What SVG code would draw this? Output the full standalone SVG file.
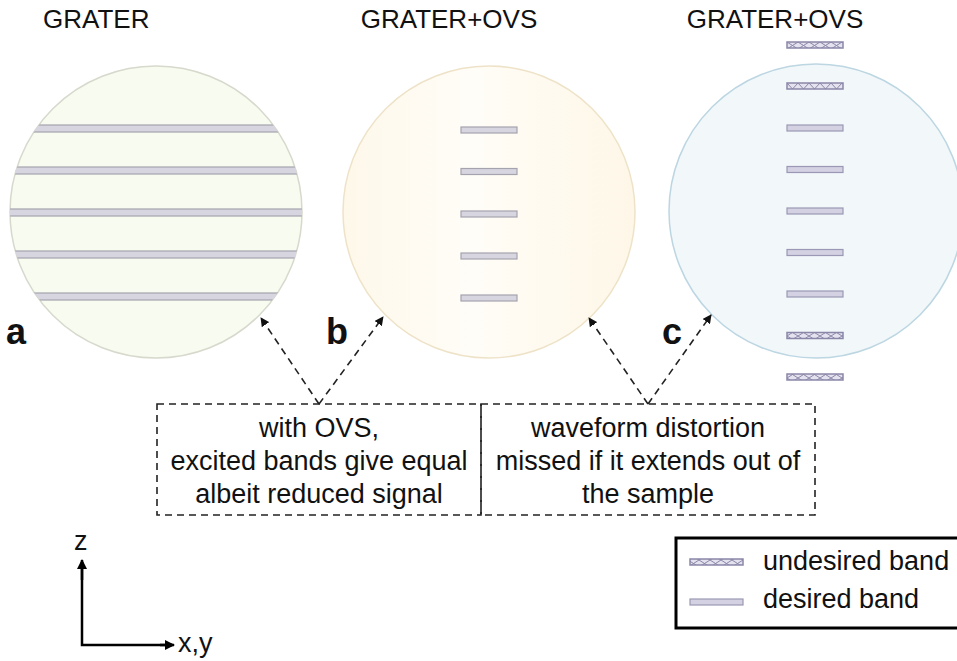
<svg xmlns="http://www.w3.org/2000/svg" width="957" height="661" viewBox="0 0 957 661">
<style>
.t{font-family:"Liberation Sans",Arial,sans-serif;fill:#111;}
.title{font-size:26px;}
.lab{font-size:36px;font-weight:bold;}
.box{font-size:27px;text-anchor:middle;}
.leg{font-size:27px;}
.band{fill:#d6d5e0;stroke:#a4a3ae;stroke-width:1.2;}
.dband{fill:#d3d1e2;stroke:#9a98b4;stroke-width:1.2;}
.hx{fill:url(#px);stroke:#8a86a8;stroke-width:1.5;}
.hv{fill:url(#pv);stroke:#8a86a8;stroke-width:1.5;}
.dash{fill:none;stroke:#222;stroke-width:1.6;stroke-dasharray:7 5;}
.ax{fill:none;stroke:#000;stroke-width:2.5;}
</style>
<defs>
<linearGradient id="gb" x1="0" y1="0" x2="1" y2="0">
<stop offset="0" stop-color="#fef8ea"/>
<stop offset="0.45" stop-color="#fffdf8"/>
<stop offset="0.6" stop-color="#fffbf2"/>
<stop offset="1" stop-color="#fef7e8"/>
</linearGradient>
<clipPath id="ca"><circle cx="156" cy="212" r="146"/></clipPath>
<pattern id="px" width="11" height="7" patternUnits="userSpaceOnUse" x="787" y="0">
<rect width="11" height="7" fill="#e4e2ee"/>
<path d="M0,0 L11,7 M11,0 L0,7" stroke="#8a86a8" stroke-width="1"/>
</pattern>
<pattern id="pv" width="11" height="7" patternUnits="userSpaceOnUse" x="787" y="83">
<rect width="11" height="7" fill="#e4e2ee"/>
<path d="M0,0 L5.5,6 L11,0" stroke="#8a86a8" stroke-width="1" fill="none"/>
</pattern>
<marker id="ah" viewBox="0 0 10 10" refX="9" refY="5" markerWidth="9" markerHeight="9" markerUnits="userSpaceOnUse" orient="auto">
<path d="M0,0 L10,5 L0,10 z" fill="#111"/>
</marker>
<marker id="axh" viewBox="0 0 10 10" refX="9" refY="5" markerWidth="10" markerHeight="10" markerUnits="userSpaceOnUse" orient="auto">
<path d="M0,0 L10,5 L0,10 z" fill="#000"/>
</marker>
</defs>
<rect width="957" height="661" fill="#fff"/>

<text class="t title" x="43" y="28">GRATER</text>
<text class="t title" x="449" y="28" text-anchor="middle">GRATER+OVS</text>
<text class="t title" x="775" y="28" text-anchor="middle">GRATER+OVS</text>

<g id="circle-a">
<circle cx="156" cy="212" r="146" fill="#f8fbf0" stroke="#d6d9cc" stroke-width="1.5"/>
<g clip-path="url(#ca)">
<rect class="band" x="0" y="125" width="320" height="7"/>
<rect class="band" x="0" y="167" width="320" height="7"/>
<rect class="band" x="0" y="209" width="320" height="7"/>
<rect class="band" x="0" y="251" width="320" height="7"/>
<rect class="band" x="0" y="293" width="320" height="7"/>
</g>
<text class="t lab" x="6" y="344">a</text>
</g>

<g id="circle-b">
<circle cx="489" cy="212" r="146" fill="url(#gb)" stroke="#eee3c8" stroke-width="1.5"/>
<rect class="band" x="461" y="127" width="56" height="6"/>
<rect class="band" x="461" y="168.5" width="56" height="6"/>
<rect class="band" x="461" y="211" width="56" height="6"/>
<rect class="band" x="461" y="253" width="56" height="6"/>
<rect class="band" x="461" y="295" width="56" height="6"/>
<text class="t lab" x="326" y="344">b</text>
</g>

<g id="circle-c">
<circle cx="816" cy="211" r="147" fill="#f2f7fa" stroke="#bcd6e2" stroke-width="1.5"/>
<rect class="hx" x="787" y="42" width="56" height="6"/>
<rect class="hv" x="787" y="83" width="56" height="6"/>
<rect class="dband" x="787" y="125" width="56" height="6"/>
<rect class="dband" x="787" y="166.5" width="56" height="6"/>
<rect class="dband" x="787" y="208" width="56" height="6"/>
<rect class="dband" x="787" y="249.5" width="56" height="6"/>
<rect class="dband" x="787" y="291" width="56" height="6"/>
<rect class="hx" x="787" y="332.5" width="56" height="6"/>
<rect class="hx" x="787" y="374" width="56" height="6"/>
<text class="t lab" x="662" y="344">c</text>
</g>

<g id="connectors">
<line class="dash" x1="319" y1="404" x2="261" y2="318" marker-end="url(#ah)"/>
<line class="dash" x1="319" y1="404" x2="383" y2="317" marker-end="url(#ah)"/>
<line class="dash" x1="648" y1="404" x2="589" y2="318" marker-end="url(#ah)"/>
<line class="dash" x1="648" y1="404" x2="711" y2="315" marker-end="url(#ah)"/>
</g>

<g id="note-left">
<rect class="dash" x="157" y="404" width="324" height="111"/>
<text class="t box" x="319" y="437">with OVS,</text>
<text class="t box" x="319" y="470">excited bands give equal</text>
<text class="t box" x="319" y="503">albeit reduced signal</text>
</g>
<g id="note-right">
<rect class="dash" x="481" y="404" width="334" height="111"/>
<text class="t box" x="648" y="437">waveform distortion</text>
<text class="t box" x="648" y="470">missed if it extends out of</text>
<text class="t box" x="648" y="503">the sample</text>
</g>

<g id="axes">
<polyline class="ax" points="82,562 82,645 172,645" fill="none"/>
<line x1="82" y1="580" x2="82" y2="560" stroke="#000" stroke-width="2.5" marker-end="url(#axh)"/>
<line x1="160" y1="645" x2="174" y2="645" stroke="#000" stroke-width="2.5" marker-end="url(#axh)"/>
<text class="t leg" x="74" y="550">z</text>
<text class="t leg" x="178" y="652" font-size="26">x,y</text>
</g>

<g id="legend">
<rect x="676" y="538" width="290" height="90" fill="#fff" stroke="#000" stroke-width="3"/>
<rect class="hx" x="690" y="559" width="53" height="6"/>
<rect class="dband" x="690" y="599" width="53" height="6"/>
<text class="t leg" x="763" y="570">undesired band</text>
<text class="t leg" x="763" y="608">desired band</text>
</g>
</svg>
